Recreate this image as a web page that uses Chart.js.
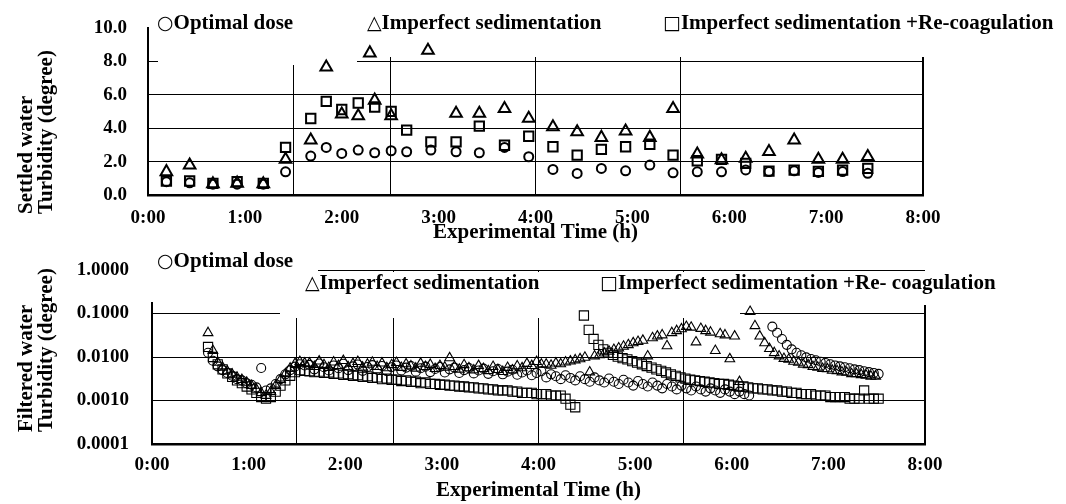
<!DOCTYPE html>
<html>
<head>
<meta charset="utf-8">
<title>Settled and filtered water turbidity</title>
<script src="https://cdn.jsdelivr.net/npm/chart.js@4.4.1/dist/chart.umd.min.js"></script>
<style>
  body { margin: 0; background: #fff; }
  canvas { position: absolute; left: 0; }
  #settled { top: 0; }
  #filtered { top: 250px; }
</style>
</head>
<body>
<canvas id="settled" width="1066" height="250"></canvas>
<canvas id="filtered" width="1066" height="254"></canvas>
<script>
// ---- upper panel: settled water turbidity (degree), time in hours ----
var settledTime = [0.19, 0.43, 0.67, 0.92, 1.19, 1.42, 1.68, 1.84, 2.00, 2.17, 2.34, 2.51, 2.67, 2.92, 3.18, 3.42,
                   3.68, 3.93, 4.18, 4.43, 4.68, 4.93, 5.18, 5.42, 5.67, 5.92, 6.17, 6.41, 6.67, 6.92, 7.17, 7.43];
var settledOptimal = [0.80, 0.73, 0.65, 0.65, 0.65, 1.39, 2.33, 2.85, 2.49, 2.69, 2.53, 2.65, 2.59, 2.69, 2.59, 2.53,
                      2.85, 2.29, 1.53, 1.29, 1.59, 1.45, 1.79, 1.33, 1.39, 1.39, 1.50, 1.40, 1.45, 1.35, 1.40, 1.30];
var settledRecoag = [0.83, 0.84, 0.70, 0.80, 0.70, 2.85, 4.58, 5.61, 5.12, 5.51, 5.27, 5.01, 3.88, 3.18, 3.18, 4.12,
                     2.98, 3.52, 2.89, 2.39, 2.73, 2.89, 3.04, 2.39, 2.05, 2.13, 1.89, 1.43, 1.49, 1.41, 1.49, 1.59];
var imperfectTime = [0.19, 0.43, 0.67, 0.92, 1.19, 1.42, 1.68, 1.84, 2.00, 2.17, 2.29, 2.34, 2.51, 2.89, 3.18, 3.42,
                     3.68, 3.93, 4.18, 4.43, 4.68, 4.93, 5.18, 5.42, 5.67, 5.92, 6.17, 6.41, 6.67, 6.92, 7.17, 7.43];
var settledImperfect = [1.39, 1.79, 0.66, 0.70, 0.66, 2.13, 3.28, 7.66, 4.84, 4.74, 8.50, 5.67, 4.74, 8.66, 4.88, 4.88,
                        5.17, 4.58, 4.08, 3.78, 3.44, 3.82, 3.44, 5.17, 2.45, 2.10, 2.19, 2.59, 3.28, 2.13, 2.13, 2.29];

// ---- lower panel: filtered water turbidity (degree), one reading every 3 min ----
var filtStep = 0.05;
var filtOptimal1Start = 0.58;
var filtOptimal1 = [0.0125, 0.0082, 0.0061, 0.0050, 0.0043, 0.0037, 0.0031, 0.0029, 0.0025, 0.0023, 0.0020, 0.0056,
  0.0017, 0.0019, 0.0024, 0.0031, 0.0040, 0.0050, 0.0060, 0.0068, 0.0064,
  0.0066, 0.0052, 0.0071, 0.0058, 0.0049, 0.0064, 0.0055, 0.0070, 0.0050, 0.0061, 0.0067, 0.0048, 0.0059, 0.0065,
  0.0051, 0.0062, 0.0047, 0.0058, 0.0064,
  0.0049, 0.0057, 0.0062, 0.0046, 0.0055, 0.0060, 0.0045, 0.0053, 0.0059, 0.0044, 0.0052, 0.0057, 0.0043, 0.0050,
  0.0056, 0.0042, 0.0049, 0.0054, 0.0041, 0.0047, 0.0053, 0.0040, 0.0046, 0.0051, 0.0039, 0.0044, 0.0049, 0.0038,
  0.0043, 0.0047,
  0.0034, 0.0040, 0.0036, 0.0031, 0.0038, 0.0033, 0.0029, 0.0036, 0.0031, 0.0027, 0.0034, 0.0029, 0.0026, 0.0032,
  0.0027, 0.0024, 0.0030, 0.0026, 0.0022, 0.0028, 0.0024, 0.0021, 0.0026, 0.0022, 0.0019, 0.0024, 0.0021, 0.0018,
  0.0022, 0.0019, 0.0017, 0.0021, 0.0018, 0.0016, 0.0019, 0.0017, 0.0015, 0.0018, 0.0016, 0.0014, 0.0016, 0.0014, 0.0013];
var filtOptimal2Start = 6.42;
var filtOptimal2 = [0.050, 0.036, 0.026, 0.019, 0.015, 0.0125, 0.0110, 0.0098, 0.0090, 0.0084, 0.0078, 0.0073,
  0.0068, 0.0064, 0.0061, 0.0058, 0.0055, 0.0052, 0.0050, 0.0047, 0.0045, 0.0043, 0.0041];

var filtImperfect1Start = 0.58;
var filtImperfect1 = [0.036, 0.0140, 0.0075, 0.0058, 0.0047, 0.0040, 0.0034, 0.0030, 0.0026, 0.0022, 0.0018, 0.0015,
  0.0013, 0.0016, 0.0022, 0.0030, 0.0041, 0.0055, 0.0070, 0.0078, 0.0072,
  0.0072, 0.0060, 0.0080, 0.0066, 0.0057, 0.0076, 0.0063, 0.0082, 0.0059, 0.0070, 0.0078, 0.0058, 0.0068, 0.0075,
  0.0060, 0.0072, 0.0056, 0.0066, 0.0074, 0.0057, 0.0069, 0.0062, 0.0055, 0.0071, 0.0060, 0.0067, 0.0054, 0.0063,
  0.0058, 0.0095,
  0.0060, 0.0052, 0.0066, 0.0056, 0.0050, 0.0063, 0.0054, 0.0048, 0.0060, 0.0051, 0.0046, 0.0057, 0.0050, 0.0062,
  0.0056, 0.0070, 0.0063, 0.0078, 0.0068,
  0.0068, 0.0064, 0.0072, 0.0069, 0.0076, 0.0080, 0.0085, 0.0090, 0.0098, 0.0045,
  0.0105, 0.0112, 0.0122, 0.0135, 0.0148, 0.0160, 0.0175, 0.0190, 0.0210, 0.0225,
  0.0240, 0.0105, 0.0275, 0.0300, 0.0320, 0.0180, 0.0360, 0.0400, 0.0440, 0.0500,
  0.0480, 0.0220, 0.0450, 0.0400, 0.0370, 0.0140, 0.0340, 0.0320, 0.0090, 0.0300, 0.0027];
var filtImperfect2Start = 6.19;
var filtImperfect2 = [0.110, 0.052, 0.030, 0.021, 0.0155, 0.0125, 0.0105, 0.0092, 0.0088, 0.0079, 0.0075, 0.0068,
  0.0066, 0.0060, 0.0058, 0.0054, 0.0053, 0.0049, 0.0048, 0.0045, 0.0044, 0.0041, 0.0041, 0.0039, 0.0038, 0.0036, 0.0036];

var filtRecoag1Start = 0.58;
var filtRecoag1 = [0.0170, 0.0100, 0.0068, 0.0052, 0.0042, 0.0035, 0.0029, 0.0025, 0.0021, 0.0018, 0.0015, 0.0012,
  0.0011, 0.0012, 0.0016, 0.0022, 0.0029, 0.0037, 0.0045, 0.0050, 0.0048,
  0.0047, 0.0045, 0.0046, 0.0043, 0.0044, 0.0041, 0.0042, 0.0039, 0.0040, 0.0037, 0.0038, 0.0035, 0.0036, 0.0033,
  0.0034, 0.0031, 0.0032, 0.0030, 0.0030,
  0.0028, 0.0029, 0.0027, 0.0027, 0.0025, 0.0026, 0.0024, 0.0024, 0.0023, 0.0023, 0.0022, 0.0022, 0.0021, 0.0021,
  0.0020, 0.0020, 0.0019, 0.0019, 0.0018, 0.0018, 0.0017, 0.0017, 0.0017, 0.0016, 0.0016, 0.0015, 0.0015, 0.0015,
  0.0014, 0.0014,
  0.0014, 0.0013, 0.0013, 0.0013, 0.0011, 0.0008, 0.0007];
var filtRecoag2Start = 4.47;
var filtRecoag2 = [0.090, 0.042, 0.026, 0.019, 0.015, 0.0125, 0.0112, 0.0102, 0.0094, 0.0088, 0.0080, 0.0074,
  0.0068, 0.0062, 0.0057, 0.0052, 0.0048, 0.0044, 0.0040, 0.0037, 0.0034, 0.0032, 0.0030, 0.0029, 0.0028, 0.0027,
  0.0026, 0.0025, 0.0024, 0.0024, 0.0023, 0.0022, 0.0021, 0.0021, 0.0020, 0.0019, 0.0019, 0.0018, 0.0018, 0.0017,
  0.0017, 0.0016, 0.0016, 0.0015, 0.0015, 0.0014, 0.0014, 0.0014, 0.0013, 0.0013, 0.0013, 0.0012, 0.0012, 0.0012,
  0.0012, 0.0011, 0.0011, 0.0011, 0.0017, 0.0011, 0.0011, 0.0011];

// ---- axes and legend text ----
var settledTicks = [0, 2, 4, 6, 8, 10];
var filteredTicks = [0.0001, 0.001, 0.01, 0.1, 1];
var ruleTimes = [1.5, 2.5, 4, 5.5];          // vertical rules drawn in the original
var seriesMarks = ['\u25CB', '\u25B3', '\u25A1'];
var settledNames = ['Optimal dose', 'Imperfect sedimentation', 'Imperfect sedimentation +Re-coagulation'];
var filteredNames = ['Optimal dose', 'Imperfect sedimentation', 'Imperfect sedimentation +Re- coagulation'];
var settledTitle = ['Settled water', 'Turbidity (degree)'];
var filteredTitle = ['Filtered water', 'Turbidity (degree)'];
var timeTitle = 'Experimental Time (h)';

var SERIF = '"Liberation Serif", "Times New Roman", serif';
Chart.defaults.font.family = SERIF;
Chart.defaults.color = '#000';

function pairs(xs, ys) {
  return xs.map(function (x, i) { return { x: x, y: ys[i] }; });
}
function logged(start, ys) {
  return ys.map(function (y, i) { return { x: start + i * filtStep, y: y }; });
}
function hourLabel(v) {
  return Number.isInteger(v) ? v + ':00' : '';
}

// white legend boxes of the original, right frame line, legend text, y titles
function paper(cfg) {
  return {
    id: 'paper',
    beforeDatasetsDraw: function (chart) {
      var ctx = chart.ctx, a = chart.chartArea;
      ctx.save();
      ctx.fillStyle = '#fff';
      cfg.boxes.forEach(function (b) { ctx.fillRect(b[0], b[1], b[2], b[3]); });
      ctx.strokeStyle = '#000';
      ctx.lineWidth = 2;
      ctx.beginPath();
      ctx.moveTo(a.right, cfg.frameTop);
      ctx.lineTo(a.right, a.bottom);
      ctx.stroke();
      ctx.restore();
    },
    afterDraw: function (chart) {
      var ctx = chart.ctx;
      ctx.save();
      ctx.fillStyle = '#000';
      ctx.textBaseline = 'alphabetic';
      ctx.textAlign = 'left';
      cfg.names.forEach(function (name, i) {
        var p = cfg.legendAt[i];
        ctx.font = '19px "DejaVu Sans"';
        ctx.fillText(seriesMarks[i], p[0], p[1]);
        var w = ctx.measureText(seriesMarks[i]).width;
        ctx.font = 'bold 21px ' + SERIF;
        ctx.fillText(name, p[0] + w, p[1]);
      });
      ctx.font = 'bold 21px ' + SERIF;
      ctx.textBaseline = 'middle';
      cfg.yTitle.forEach(function (line, i) {
        ctx.save();
        ctx.translate(cfg.yTitleX[i], cfg.yTitleEnd);
        ctx.rotate(-Math.PI / 2);
        ctx.fillText(line, 0, 0);
        ctx.restore();
      });
      ctx.restore();
    }
  };
}

function timeAxis(height, labelPad, titlePad) {
  return {
    type: 'linear', min: 0, max: 8,
    afterFit: function (s) { s.height = height; s.paddingLeft = 0; s.paddingRight = 0; },
    afterBuildTicks: function (s) {
      var t = [];
      for (var v = 0; v <= 8; v += 0.5) t.push({ value: v });
      s.ticks = t;
    },
    ticks: { autoSkip: false, maxRotation: 0, padding: labelPad, callback: hourLabel,
             font: { size: 19, weight: 'bold' }, color: '#000' },
    grid: { drawTicks: false, lineWidth: 1,
            color: function (c) { return c.tick && ruleTimes.indexOf(c.tick.value) >= 0 ? '#000' : 'rgba(0,0,0,0)'; } },
    border: { display: true, color: '#000', width: 2.5 },
    title: { display: true, text: timeTitle, font: { size: 21, weight: 'bold' }, color: '#000',
             padding: { top: 0, bottom: titlePad } }
  };
}

function markSet(label, data, style, radius, width, fill) {
  return {
    label: label, data: data, showLine: false,
    pointStyle: style, pointRadius: radius, pointHoverRadius: radius,
    pointBorderColor: '#000', pointBackgroundColor: fill, pointBorderWidth: width,
    borderColor: '#000', backgroundColor: fill
  };
}

// ---- upper chart ----
new Chart(document.getElementById('settled'), {
  type: 'scatter',
  data: {
    datasets: [
      markSet(settledNames[0], pairs(settledTime, settledOptimal), 'circle', 4.5, 2, 'rgba(0,0,0,0)'),
      markSet(settledNames[1], pairs(imperfectTime, settledImperfect), 'triangle', 6.7, 2, 'rgba(0,0,0,0)'),
      markSet(settledNames[2], pairs(settledTime, settledRecoag), 'rect', 6.6, 2, 'rgba(0,0,0,0)')
    ]
  },
  options: {
    responsive: false, animation: false, events: [],
    layout: { padding: { left: 0, top: 28, right: 143, bottom: 0 } },
    plugins: { legend: { display: false }, tooltip: { enabled: false } },
    scales: {
      x: timeAxis(55, 12, 5),
      y: {
        min: 0, max: 10,
        afterFit: function (s) { s.width = 148; s.paddingTop = 0; s.paddingBottom = 0; },
        afterBuildTicks: function (s) { s.ticks = settledTicks.map(function (v) { return { value: v }; }); },
        ticks: { padding: 21, font: { size: 19, weight: 'bold' }, color: '#000',
                 callback: function (v) { return v.toFixed(1); } },
        grid: { drawTicks: false, lineWidth: 1,
                color: function (c) { return c.tick && c.tick.value > 0 && c.tick.value < 10 ? '#000' : 'rgba(0,0,0,0)'; } },
        border: { display: true, color: '#000', width: 2 }
      }
    }
  },
  plugins: [paper({
    boxes: [[158, 0, 199, 65], [357, 0, 573, 57]],
    frameTop: 57,
    names: settledNames,
    legendAt: [[157, 29], [367, 29], [663, 29]],
    yTitle: settledTitle, yTitleX: [27, 47], yTitleEnd: 214
  })]
});

// ---- lower chart ----
new Chart(document.getElementById('filtered'), {
  type: 'scatter',
  data: {
    datasets: [
      markSet(filteredNames[2], logged(filtRecoag1Start, filtRecoag1), 'rect', 6.5, 1.1, 'rgba(0,0,0,0)'),
      markSet(filteredNames[2], logged(filtRecoag2Start, filtRecoag2), 'rect', 6.5, 1.1, 'rgba(0,0,0,0)'),
      markSet(filteredNames[1], logged(filtImperfect1Start, filtImperfect1), 'triangle', 5.6, 1.1, 'rgba(0,0,0,0)'),
      markSet(filteredNames[1], logged(filtImperfect2Start, filtImperfect2), 'triangle', 5.6, 1.1, 'rgba(0,0,0,0)'),
      markSet(filteredNames[0], logged(filtOptimal1Start, filtOptimal1), 'circle', 4.5, 1.1, 'rgba(0,0,0,0)'),
      markSet(filteredNames[0], logged(filtOptimal2Start, filtOptimal2), 'circle', 4.5, 1.1, 'rgba(0,0,0,0)')
    ]
  },
  options: {
    responsive: false, animation: false, events: [],
    layout: { padding: { left: 0, top: 20, right: 141, bottom: 0 } },
    plugins: { legend: { display: false }, tooltip: { enabled: false } },
    scales: {
      x: timeAxis(60, 10, 0.5),
      y: {
        type: 'logarithmic', min: 0.0001, max: 1,
        afterFit: function (s) { s.width = 152; s.paddingTop = 0; s.paddingBottom = 0; },
        afterBuildTicks: function (s) { s.ticks = filteredTicks.map(function (v) { return { value: v }; }); },
        ticks: { padding: 23, font: { size: 19, weight: 'bold' }, color: '#000',
                 callback: function (v) { return Number(v).toFixed(4); } },
        grid: { drawTicks: false, lineWidth: 1,
                color: function (c) { return c.tick && c.tick.value > 0.0001 ? '#000' : 'rgba(0,0,0,0)'; } },
        border: { display: true, color: '#000', width: 2 }
      }
    }
  },
  plugins: [paper({
    boxes: [[145, 0, 173, 52], [280, 22, 460, 46], [740, 22, 195, 33]],
    frameTop: 55,
    names: filteredNames,
    legendAt: [[157, 17], [305, 39], [600, 39]],
    yTitle: filteredTitle, yTitleX: [27, 47], yTitleEnd: 182
  })]
});
</script>
</body>
</html>
